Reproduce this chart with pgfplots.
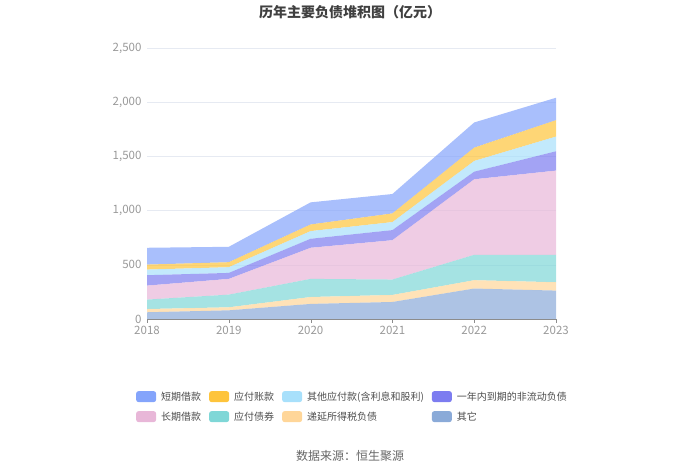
\documentclass[border=0pt]{standalone}
\usepackage{pgfplots}
\pgfplotsset{compat=1.18}
\usepackage{fontspec}
\setmainfont{Noto Sans CJK SC}
\definecolor{cA}{HTML}{84A4FB}
\definecolor{cB}{HTML}{FEC43C}
\definecolor{cC}{HTML}{A8E0FB}
\definecolor{cD}{HTML}{7C7CF0}
\definecolor{cE}{HTML}{E8B7D8}
\definecolor{cF}{HTML}{7FD7D7}
\definecolor{cG}{HTML}{FFD699}
\definecolor{cH}{HTML}{8AAAD8}
\definecolor{tick}{HTML}{999999}
\definecolor{gridc}{HTML}{E6EAF2}
\begin{document}
\begin{tikzpicture}
\path (0,0) rectangle (700pt,473pt);
\node[font=\fontsize{14}{16}\selectfont\bfseries, text=black!75] at (350pt,461pt) {历年主要负债堆积图（亿元）};
\node[font=\fontsize{12}{14}\selectfont, text=black!60] at (350pt,17pt) {数据来源：恒生聚源};
\begin{axis}[
  at={(147pt,154pt)}, anchor=south west,
  scale only axis, width=409pt, height=271pt,
  xmin=2018, xmax=2023, ymin=0, ymax=2500,
  xtick={2018,2019,2020,2021,2022,2023},
  xticklabels={2018,2019,2020,2021,2022,2023},
  ytick={0,500,1000,1500,2000,2500},
  yticklabels={0,500,{1,000},{1,500},{2,000},{2,500}},
  axis lines*=left,
  y axis line style={draw=none},
  ytick style={draw=none},
  x axis line style={draw=black!45},
  xtick style={draw=black!45},
  xtick align=outside, major tick length=4pt,
  ymajorgrids, grid style={draw=gridc},
  tick label style={font=\fontsize{11.5}{13}\selectfont, text=tick},
  yticklabel style={xshift=-2pt},
  stack plots=y,
  every axis plot/.append style={draw=none, fill opacity=0.7},
  reverse legend,
  legend columns=4,
  legend cell align=left,
  legend style={at={(0.5,-0.258)}, anchor=north, draw=none, fill=none,
    font=\fontsize{10}{12}\selectfont, text=black!70,
    nodes={inner sep=0pt},
    /tikz/every even column/.append style={column sep=8pt},
    /tikz/every odd column/.append style={column sep=5pt},
    row sep=9pt},
  legend image code/.code={\fill[#1, fill opacity=1, rounded corners=2.5pt] (0pt,-5pt) rectangle (20pt,6pt);},
]
\addplot[fill=cH] coordinates {(2018,62) (2019,80) (2020,139) (2021,157) (2022,281) (2023,262)} \closedcycle;
\addlegendentry{其它}
\addplot[fill=cG] coordinates {(2018,30) (2019,28) (2020,64) (2021,65) (2022,77) (2023,77)} \closedcycle;
\addlegendentry{递延所得税负债}
\addplot[fill=cF] coordinates {(2018,87) (2019,117) (2020,167) (2021,142) (2022,234) (2023,253)} \closedcycle;
\addlegendentry{应付债券}
\addplot[fill=cE] coordinates {(2018,129) (2019,145) (2020,287) (2021,363) (2022,697) (2023,777)} \closedcycle;
\addlegendentry{长期借款}
\addplot[fill=cD] coordinates {(2018,96) (2019,55) (2020,83) (2021,93) (2022,70) (2023,178)} \closedcycle;
\addlegendentry{一年内到期的非流动负债}
\addplot[fill=cC] coordinates {(2018,52) (2019,53) (2020,71) (2021,74) (2022,99) (2023,136)} \closedcycle;
\addlegendentry{其他应付款(含利息和股利)}
\addplot[fill=cB] coordinates {(2018,46) (2019,46) (2020,61) (2021,80) (2022,123) (2023,151)} \closedcycle;
\addlegendentry{应付账款}
\addplot[fill=cA] coordinates {(2018,155) (2019,142) (2020,204) (2021,179) (2022,232) (2023,207)} \closedcycle;
\addlegendentry{短期借款}
\end{axis}
\end{tikzpicture}
\end{document}
